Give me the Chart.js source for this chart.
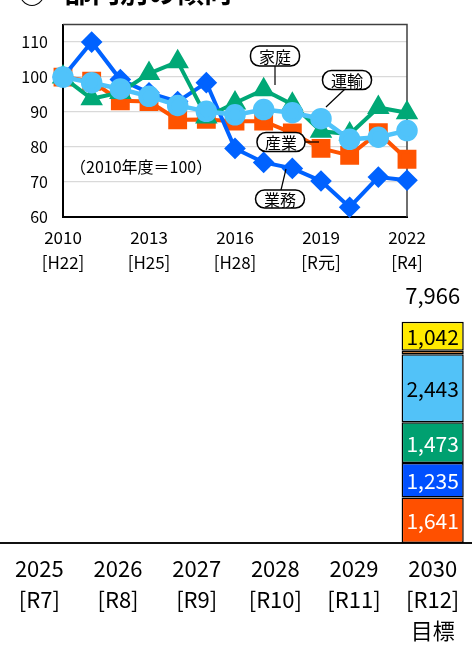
<!DOCTYPE html>
<html><head><meta charset="utf-8">
<script src="https://cdn.jsdelivr.net/npm/chart.js@4.4.1/dist/chart.umd.min.js"></script>
<style>
html,body{margin:0;padding:0;background:#fff;width:472px;height:647px;overflow:hidden;}
canvas{position:absolute;left:0;display:block;}
#c1{top:0;}
#c2{top:280px;}
</style></head><body>
<canvas id="c1" width="472" height="280"></canvas>
<canvas id="c2" width="472" height="367"></canvas>
<script>
// ---- line chart data (2010 = 100) ----
const years = ['2010','2011','2012','2013','2014','2015','2016','2017','2018','2019','2020','2021','2022'];
const eras  = ['H22','H23','H24','H25','H26','H27','H28','H29','H30','R元','R2','R3','R4'];
const sangyo = [100, 98.8, 93.2, 93.0, 87.8, 87.9, 87.4, 87.4, 84.0, 79.6, 77.6, 84.1, 76.5];
const gyomu  = [100, 110.0, 99.3, 95.5, 93.0, 98.4, 79.6, 75.6, 73.9, 70.3, 62.8, 71.4, 70.5];
const katei  = [100, 93.8, 95.6, 101.0, 104.4, 88.6, 92.6, 96.4, 92.2, 84.5, 83.7, 91.3, 89.8];
const unyu   = [100, 98.4, 96.6, 94.5, 91.9, 90.2, 89.2, 90.7, 89.8, 88.1, 82.2, 82.8, 84.7];
const yTicks = [60, 70, 80, 90, 100, 110];
const baseNote = '（2010年度＝100）';
const titleText = '部門別の傾向';

// ---- bar chart data ----
const barYears = ['2025','2026','2027','2028','2029','2030'];
const barEras  = ['[R7]','[R8]','[R9]','[R10]','[R11]','[R12]'];
const targetWord = '目標';
const segNames = ['産業','業務','家庭','運輸','廃棄物','その他'];
const seg2030  = [1641, 1235, 1473, 2443, 132, 1042];
const total2030 = 7966;

const FONT = '"Noto Sans CJK JP", "Noto Sans", sans-serif';

function pill(ctx, cx, cy, w, h, r, text){
  ctx.beginPath();
  const x0 = cx - w/2, y0 = cy - h/2;
  ctx.moveTo(x0 + r, y0);
  ctx.lineTo(x0 + w - r, y0);
  ctx.arcTo(x0 + w, y0, x0 + w, y0 + r, r);
  ctx.lineTo(x0 + w, y0 + h - r);
  ctx.arcTo(x0 + w, y0 + h, x0 + w - r, y0 + h, r);
  ctx.lineTo(x0 + r, y0 + h);
  ctx.arcTo(x0, y0 + h, x0, y0 + h - r, r);
  ctx.lineTo(x0, y0 + r);
  ctx.arcTo(x0, y0, x0 + r, y0, r);
  ctx.closePath();
  ctx.fillStyle = '#fff'; ctx.fill();
  ctx.lineWidth = 1.5; ctx.strokeStyle = '#000'; ctx.stroke();
  ctx.fillStyle = '#000';
  ctx.font = '16px ' + FONT;
  ctx.textAlign = 'center'; ctx.textBaseline = 'middle';
  ctx.fillText(text, cx, cy + 1);
}
function seg(ctx, x1, y1, x2, y2){
  ctx.beginPath(); ctx.moveTo(x1, y1); ctx.lineTo(x2, y2);
  ctx.lineWidth = 1.2; ctx.strokeStyle = '#000'; ctx.stroke();
}

const topDecor = {
  id: 'topDecor',
  beforeDatasetsDraw(chart){
    const {ctx, chartArea: a} = chart;
    ctx.save();
    ctx.strokeStyle = '#404040'; ctx.lineWidth = 1.5;
    ctx.beginPath();
    ctx.moveTo(a.left, a.top); ctx.lineTo(a.right, a.top); ctx.lineTo(a.right, a.bottom);
    ctx.stroke();
    ctx.restore();
  },
  afterDraw(chart){
    const ctx = chart.ctx;
    ctx.save();
    // title (cut at top)
    ctx.fillStyle = '#000';
    ctx.textAlign = 'left'; ctx.textBaseline = 'alphabetic';
    ctx.font = 'bold 28px ' + FONT;
    ctx.fillText('②', 18, 3);
    ctx.fillText(titleText, 64, 3);
    // note
    ctx.font = '16px ' + FONT;
    ctx.textBaseline = 'middle';
    ctx.fillText(baseNote, 70, 167);
    // callouts
    seg(ctx, 275, 66, 275, 85);
    seg(ctx, 345, 89, 326, 107);
    seg(ctx, 305, 142, 319, 142);
    seg(ctx, 281, 190, 286, 169);
    pill(ctx, 275, 56, 49, 20, 9, segNames[2]);
    pill(ctx, 347, 80, 49, 19, 9, segNames[3]);
    pill(ctx, 281, 142, 48, 19, 9, segNames[0]);
    pill(ctx, 280, 199, 49, 18, 9, segNames[1]);
    ctx.restore();
  }
};

new Chart(document.getElementById('c1'), {
  type: 'line',
  data: {
    labels: years,
    datasets: [
      {label: segNames[0], data: sangyo, borderColor: '#FF5300', backgroundColor: '#FF5300',
       pointStyle: 'rect', pointRadius: 10.5, borderWidth: 4, order: 3, clip: false},
      {label: segNames[1], data: gyomu, borderColor: '#0062FF', backgroundColor: '#0062FF',
       pointStyle: 'rectRot', pointRadius: 8, borderWidth: 4, order: 2, clip: false},
      {label: segNames[2], data: katei, borderColor: '#00A876', backgroundColor: '#00A876',
       pointStyle: 'triangle', pointRadius: 9, borderWidth: 4, order: 1, clip: false},
      {label: segNames[3], data: unyu, borderColor: '#50C3FA', backgroundColor: '#50C3FA',
       pointStyle: 'circle', pointRadius: 8.5, borderWidth: 4.5, order: 0, clip: false}
    ]
  },
  options: {
    responsive: false, animation: false, events: [],
    layout: {padding: {left: 0, right: 65, top: 10, bottom: 0}},
    plugins: {legend: {display: false}, tooltip: {enabled: false}},
    elements: {line: {tension: 0}, point: {borderWidth: 1}},
    scales: {
      x: {
        grid: {display: false, drawTicks: false},
        border: {display: true, color: '#000', width: 2},
        afterFit(s){ s.height = 63; },
        ticks: {
          autoSkip: false, maxRotation: 0, padding: 8, color: '#000',
          font: {family: FONT, size: 17, lineHeight: '25px'},
          callback(v, i){ return i % 3 === 0 ? [years[i], '[' + eras[i] + ']'] : ''; }
        }
      },
      y: {
        min: 60, max: 115,
        afterBuildTicks(s){ s.ticks = yTicks.map(v => ({value: v})); },
        afterFit(s){ s.width = 63; },
        grid: {color: '#d9d9d9', lineWidth: 1.2, drawTicks: false},
        border: {display: true, color: '#000', width: 2},
        ticks: {padding: 15, color: '#000', font: {family: FONT, size: 16}}
      }
    }
  },
  plugins: [topDecor]
});

// ---- bar chart ----
const segColors = ['#FF5000', '#0050FF', '#00A070', '#52C2F8', '#FF7A00', '#FFEA00'];
const segText   = ['#fff', '#fff', '#fff', '#000', null, '#000'];

const barLabels = {
  id: 'barLabels',
  afterDatasetsDraw(chart){
    const ctx = chart.ctx;
    ctx.save();
    ctx.textAlign = 'center'; ctx.textBaseline = 'middle';
    ctx.font = '21px ' + FONT;
    let topY = null, cx = null;
    chart.data.datasets.forEach((ds, k) => {
      const el = chart.getDatasetMeta(k).data[5];
      if (!el) return;
      cx = el.x;
      topY = topY === null ? el.y : Math.min(topY, el.y);
      if (!segText[k]) return;
      ctx.fillStyle = segText[k];
      ctx.fillText(seg2030[k].toLocaleString('en-US'), el.x, (el.y + el.base) / 2 + 1);
    });
    ctx.fillStyle = '#000';
    ctx.font = '22px ' + FONT;
    ctx.fillText(total2030.toLocaleString('en-US'), cx, topY - 26);
    ctx.restore();
  }
};

new Chart(document.getElementById('c2'), {
  type: 'bar',
  data: {
    labels: barYears,
    datasets: segNames.map((n, k) => ({
      label: n,
      data: barYears.map((y, i) => i === barYears.length - 1 ? seg2030[k] : null),
      backgroundColor: segColors[k],
      borderColor: '#000', borderWidth: 1.5, borderSkipped: false,
      categoryPercentage: 1, barPercentage: 0.79
    }))
  },
  options: {
    responsive: false, animation: false, events: [],
    layout: {padding: {left: 0, right: -5, top: 13, bottom: 0}},
    plugins: {legend: {display: false}, tooltip: {enabled: false}},
    scales: {
      x: {
        stacked: true,
        grid: {display: false, drawTicks: false},
        border: {display: true, color: '#111', width: 2},
        afterFit(s){ s.height = 104; },
        ticks: {
          autoSkip: false, maxRotation: 0, padding: 10, color: '#000',
          font: {family: FONT, size: 22, lineHeight: '31px'},
          callback(v, i){
            return i === barYears.length - 1 ? [barYears[i], barEras[i], targetWord] : [barYears[i], barEras[i]];
          }
        }
      },
      y: {stacked: true, display: false, min: 0, max: 9000}
    }
  },
  plugins: [barLabels]
});
</script>
</body></html>
